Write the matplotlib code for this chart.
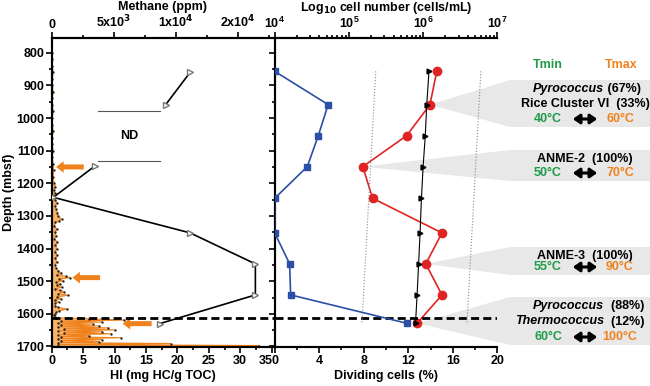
import numpy as np
import matplotlib
matplotlib.use("Agg")
import matplotlib.pyplot as plt
from matplotlib.patches import Polygon, FancyArrowPatch
from matplotlib.ticker import FixedLocator, MultipleLocator, LogLocator, NullFormatter
import matplotlib.transforms as mtransforms

plt.rcParams['font.family'] = ['Liberation Sans', 'DejaVu Sans']
plt.rcParams['font.weight'] = 'bold'
plt.rcParams['axes.labelweight'] = 'bold'
plt.rcParams['mathtext.default'] = 'bf'

# ---------------- data ----------------
# HI profile (mg HC/g TOC)
hi_depth = [800, 820, 840, 860, 880, 900, 920, 940, 960, 980, 1000, 1020, 1040, 1060,
            1080, 1100, 1120, 1140, 1160, 1180, 1200, 1210, 1220, 1230, 1240,
            1250, 1260, 1270, 1280, 1290, 1300, 1310, 1315, 1320, 1330, 1340, 1350,
            1360, 1370, 1380, 1390, 1400, 1410, 1420, 1430, 1440, 1450, 1460,
            1468, 1475, 1480, 1485, 1489, 1493, 1498, 1503, 1508, 1513, 1518, 1523,
            1528, 1533, 1538, 1543, 1548, 1553, 1558, 1563, 1568, 1575, 1580, 1585,
            1590, 1595, 1600, 1605, 1610,
            1612, 1615, 1619, 1622, 1625, 1628, 1631, 1634, 1637, 1640, 1643, 1646,
            1649, 1652, 1655, 1658, 1661, 1664, 1667, 1670, 1673, 1676, 1679, 1682,
            1685, 1688, 1691, 1694, 1697, 1700]
hi_value = [0.1, 0.1, 0.1, 0.2, 0.1, 0.1, 0.2, 0.1, 0.1, 0.2, 0.1, 0.1, 0.2, 0.1,
            0.1, 0.2, 0.1, 0.2, 0.3, 0.2, 0.4, 0.6, 0.3, 0.5, 0.2,
            0.6, 0.8, 0.5, 0.7, 0.9, 1.0, 1.6, 1.2, 0.6, 0.4, 0.8, 0.5,
            0.7, 0.4, 0.9, 0.6, 0.8, 0.5, 0.9, 0.6, 0.8, 0.5, 0.7,
            1.0, 1.5, 0.8, 2.2, 2.9, 1.2, 1.8, 0.7, 1.4, 0.9, 1.6, 0.6,
            1.3, 2.0, 1.0, 2.6, 0.8, 1.5, 0.5, 1.1, 0.6, 0.5, 1.0, 2.4,
            1.2, 0.7, 0.5, 0.4, 0.6,
            0.8, 6.0, 11.5, 1.5, 8.0, 1.0, 6.5, 1.5, 7.5, 1.0, 9.0, 2.0,
            10.0, 1.0, 8.0, 2.0, 9.5, 1.0, 6.0, 1.5, 11.0, 1.0, 8.0, 1.5,
            7.5, 1.0, 19.0, 1.0, 33.0, 0.0]

# methane (ppm), two measured segments separated by ND gap
ch4_depth_a = [860, 959]
ch4_value_a = [11150, 9180]
ch4_depth_b = [1148, 1243, 1352, 1447, 1542, 1630]
ch4_value_b = [3450, 130, 11150, 16400, 16400, 8690]

# cell data
cell_depth = [857, 959, 1054, 1149, 1246, 1352, 1447, 1542, 1629]
cell_number = [1.0e4, 5.25e4, 3.87e4, 2.75e4, 1.0e4, 1.0e4, 1.59e4, 1.64e4, 6.07e5]
dividing = [14.56, 13.95, 11.86, 7.91, 8.8, 15.03, 13.57, 15.03, 12.79]
trend_cells = [1.2e6, 1.12e6, 1.07e6, 1.0e6, 9.5e5, 9.1e5, 8.7e5, 8.3e5, 7.9e5]
bound_depth = [857, 1629]
bound_low = [2.3e5, 1.5e5]
bound_high = [6.0e6, 3.9e6]

methane_ticks = [0, 5000, 10000, 15000]
methane_labels = ['0', r'5x10$^3$', r'1x10$^4$', r'2x10$^4$']

# callouts: (index of red point, box top px, box bottom px, lines, temps)
callouts = [
    (1, 80, 127, [('Pyrococcus', ' (67%)'), ('Rice Cluster VI  (33%)', None)], ('40°C', '60°C')),
    (3, 150, 181, [('ANME-2  (100%)', None)], ('50°C', '70°C')),
    (6, 247, 275, [('ANME-3  (100%)', None)], ('55°C', '90°C')),
    (8, 297, 345, [('Pyrococcus', '  (88%)'), ('Thermococcus', '  (12%)')], ('60°C', '100°C')),
]

W, H = 650, 386
def fx(x):
    return x / W
def fy(y):
    return 1 - y / H

orange = '#f0821e'
green = '#1e9a48'
fs = 9

fig = plt.figure(figsize=(6.5, 3.86), dpi=100)
ax1 = fig.add_axes([fx(51.7), fy(346.5), fx(274 - 51.7), (346.5 - 37.7) / H])
ax2 = fig.add_axes([fx(274.7), fy(346.5), fx(497.3 - 274.7), (346.5 - 37.7) / H])
ax1t = ax1.twiny()
ax2t = ax2.twiny()

# ---------- left panel ----------
ax1.fill_betweenx(hi_depth, 0, hi_value, color='#f6b468', lw=0, zorder=1)
ax1.plot(hi_value, hi_depth, color=orange, lw=0.8, zorder=2)
ax1.plot(hi_value, hi_depth, 'o', color='#222222', ms=0.7, zorder=3)
ax1.set_xlim(0, 35.37)
ax1.set_ylim(1700, 754)
ax1.xaxis.set_major_locator(MultipleLocator(5))
ax1.xaxis.set_minor_locator(MultipleLocator(2.5))
ax1.yaxis.set_major_locator(MultipleLocator(100))
ax1.yaxis.set_minor_locator(MultipleLocator(50))
ax1.set_xlabel('HI (mg HC/g TOC)', fontsize=fs, labelpad=2)
ax1.set_ylabel('Depth (mbsf)', fontsize=fs, labelpad=1)

ax1t.plot(ch4_value_a, ch4_depth_a, color='black', lw=1.2, marker='>', ms=5,
          mfc='white', mec='#777777', zorder=4)
ax1t.plot(ch4_value_b, ch4_depth_b, color='black', lw=1.2, marker='>', ms=5,
          mfc='white', mec='#777777', zorder=4)
ax1t.set_xlim(0, 17900)
ax1t.xaxis.set_major_locator(FixedLocator(methane_ticks))
ax1t.set_xticklabels(methane_labels)
ax1t.xaxis.set_minor_locator(MultipleLocator(2500))
ax1t.set_xlabel('Methane (ppm)', fontsize=fs, labelpad=3)

# ND gap
for d in (978, 1132):
    ax1.plot([7.4, 17.2], [d, d], color='#555555', lw=0.8)
ax1.text(12.4, 1056, 'ND', ha='center', va='center', fontsize=fs)

# orange arrows
for y, x0, x1 in [(1150, 5.1, 0.7), (1489, 7.7, 3.3), (1630, 15.9, 11.3)]:
    ax1.annotate('', xy=(x1, y), xytext=(x0, y),
                 arrowprops=dict(arrowstyle='simple,head_width=1.4,head_length=0.9,tail_width=0.6',
                                 mutation_scale=6, color=orange, lw=0, shrinkA=0, shrinkB=0),
                 zorder=5)

ax1.axhline(1613, color='black', lw=2, dashes=(2.9, 1.5), zorder=6)

# ---------- right panel ----------
ax2.plot(dividing, cell_depth, color='#e02424', lw=1.2, marker='o', ms=6, zorder=4)
ax2.set_xlim(0, 20)
ax2.set_ylim(1700, 754)
ax2.xaxis.set_major_locator(MultipleLocator(4))
ax2.xaxis.set_minor_locator(MultipleLocator(2))
ax2.yaxis.set_major_locator(MultipleLocator(100))
ax2.yaxis.set_minor_locator(MultipleLocator(50))
ax2.set_yticklabels([])
ax2.set_xlabel('Dividing cells (%)', fontsize=fs, labelpad=2)
ax2.axhline(1613, color='black', lw=2, dashes=(2.9, 1.5), zorder=6)

ax2t.plot(cell_number, cell_depth, color='#2b4ea6', lw=1.2, marker='s', ms=5, zorder=4)
ax2t.plot(trend_cells, cell_depth, color='black', lw=0.8, marker='>', ms=3.5, zorder=3)
ax2t.plot(bound_low, bound_depth, color='#888888', lw=0.8, ls=':', zorder=2)
ax2t.plot(bound_high, bound_depth, color='#888888', lw=0.8, ls=':', zorder=2)
ax2t.set_xscale('log')
ax2t.set_xlim(1e4, 1e7)
ax2t.xaxis.set_major_locator(LogLocator(base=10))
ax2t.xaxis.set_minor_locator(LogLocator(base=10, subs=np.arange(2, 10)))
ax2t.xaxis.set_minor_formatter(NullFormatter())
ax2t.set_xlabel('Log$_{10}$ cell number (cells/mL)', fontsize=fs, labelpad=3)

for a in (ax1, ax2, ax1t, ax2t):
    a.tick_params(which='both', direction='out', labelsize=fs, width=1.2)
    a.tick_params(which='major', length=4)
    a.tick_params(which='minor', length=2.5)
    for s in a.spines.values():
        s.set_linewidth(1.5)
for a in (ax1, ax2, ax1t, ax2t):
    a.spines['right'].set_visible(False)
ax1.tick_params(axis='x', pad=2)
ax1.tick_params(axis='y', pad=1.5)
ax2.tick_params(axis='x', pad=2)
ax1t.tick_params(axis='x', pad=1)
ax2t.tick_params(axis='x', pad=1)

fig.canvas.draw()
for a in (ax1, ax2, ax1t, ax2t):
    for lbl in a.get_xticklabels() + a.get_yticklabels():
        lbl.set_fontweight('bold')
# last HI label sits left of the right panel's 0
last = [l for l in ax1.get_xticklabels() if l.get_text() == '35']
for l in last:
    l.set_transform(l.get_transform() + mtransforms.ScaledTranslation(-6 / 100, 0, fig.dpi_scale_trans))

# ---------- callouts ----------
to_fig = fig.transFigure.inverted()
x_box = fx(510)
for idx, top, bot, lines, temps in callouts:
    tip = to_fig.transform(ax2.transData.transform((dividing[idx], cell_depth[idx])))
    poly = Polygon([tip, (x_box, fy(top)), (1.0, fy(top)), (1.0, fy(bot)), (x_box, fy(bot))],
                   closed=True, transform=fig.transFigure, facecolor='#e8e8e8',
                   edgecolor='none', clip_on=False, zorder=0.5)
    ax2.add_patch(poly)
    n = len(lines) + 1
    ys = np.linspace(top + 9, bot - 8, n)
    for (main, rest), y in zip(lines, ys[:-1]):
        if rest is None:
            fig.text(fx(585), fy(y), main, ha='center', va='center', fontsize=fs)
        else:
            fig.text(fx(604), fy(y), main, ha='right', va='center', fontsize=fs, style='italic')
            fig.text(fx(604), fy(y), rest, ha='left', va='center', fontsize=fs)
    yt = ys[-1]
    fig.text(fx(548), fy(yt), temps[0], ha='center', va='center', fontsize=fs, color=green)
    fig.text(fx(620), fy(yt), temps[1], ha='center', va='center', fontsize=fs, color=orange)
    fig.patches.append(FancyArrowPatch(
        (fx(570), fy(yt)), (fx(600), fy(yt)), transform=fig.transFigure,
        arrowstyle='<|-|>,head_length=4,head_width=2.8', color='black', lw=2.2, figure=fig))

fig.text(fx(548), fy(65), 'Tmin', ha='center', va='center', fontsize=fs, color=green)
fig.text(fx(621), fy(65), 'Tmax', ha='center', va='center', fontsize=fs, color=orange)

fig.savefig('out.png', dpi=100)
